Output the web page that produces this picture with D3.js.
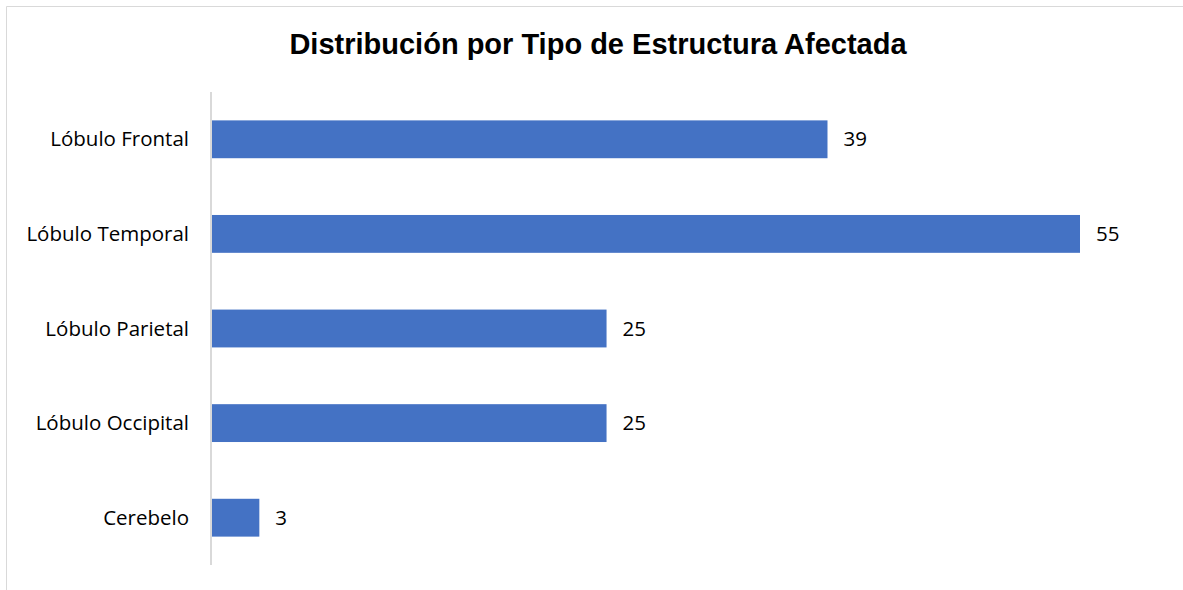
<!DOCTYPE html>
<html>
<head>
<meta charset="utf-8">
<script src="https://cdn.jsdelivr.net/npm/d3@7"></script>
<style>
  body { margin: 0; background: #fff; }
  svg { display: block; }
</style>
</head>
<body>
<svg id="chart" width="1183" height="590"></svg>
<script>
var categories = ["Lóbulo Frontal", "Lóbulo Temporal", "Lóbulo Parietal", "Lóbulo Occipital", "Cerebelo"];
var values = [39, 55, 25, 25, 3];

var svg = d3.select("#chart"),
    width = +svg.attr("width"),
    height = +svg.attr("height");

// chart frame (cut off at right/bottom like the original)
svg.append("path")
    .attr("d", "M6.5," + height + "V6.5H" + width)
    .attr("fill", "none")
    .attr("stroke", "#d9d9d9")
    .attr("stroke-width", 1);

svg.append("text")
    .attr("x", 598)
    .attr("y", 54)
    .attr("text-anchor", "middle")
    .style("font-family", "'Liberation Sans', Arial, sans-serif")
    .style("font-weight", "bold")
    .style("font-size", "29px")
    .text("Distribución por Tipo de Estructura Afectada");

var x = d3.scaleLinear().domain([0, 55]).range([212, 1080]);
var y = d3.scaleBand().domain(categories).range([92, 565]).paddingInner(0.6).paddingOuter(0.3);

var data = categories.map(function(c, i) { return { name: c, value: values[i] }; });

svg.append("g")
  .selectAll("rect")
  .data(data)
  .enter().append("rect")
    .attr("x", x(0))
    .attr("y", function(d) { return y(d.name); })
    .attr("width", function(d) { return x(d.value) - x(0); })
    .attr("height", y.bandwidth())
    .attr("fill", "#4472c4");

// axis line
svg.append("line")
    .attr("x1", 211).attr("x2", 211)
    .attr("y1", 92).attr("y2", 565)
    .attr("stroke", "#d9d9d9")
    .attr("stroke-width", 2);

var font = "'Open Sans', 'Noto Sans', sans-serif";

svg.append("g")
  .selectAll("text")
  .data(data)
  .enter().append("text")
    .attr("x", 189)
    .attr("y", function(d) { return y(d.name) + y.bandwidth() / 2; })
    .attr("dy", "0.35em")
    .attr("text-anchor", "end")
    .style("font-family", font)
    .style("font-size", "20.5px")
    .style("fill", "#000")
    .text(function(d) { return d.name; });

svg.append("g")
  .selectAll("text")
  .data(data)
  .enter().append("text")
    .attr("x", function(d) { return x(d.value) + 16; })
    .attr("y", function(d) { return y(d.name) + y.bandwidth() / 2; })
    .attr("dy", "0.35em")
    .style("font-family", font)
    .style("font-size", "20.5px")
    .style("fill", "#000")
    .text(function(d) { return d.value; });
</script>
</body>
</html>
